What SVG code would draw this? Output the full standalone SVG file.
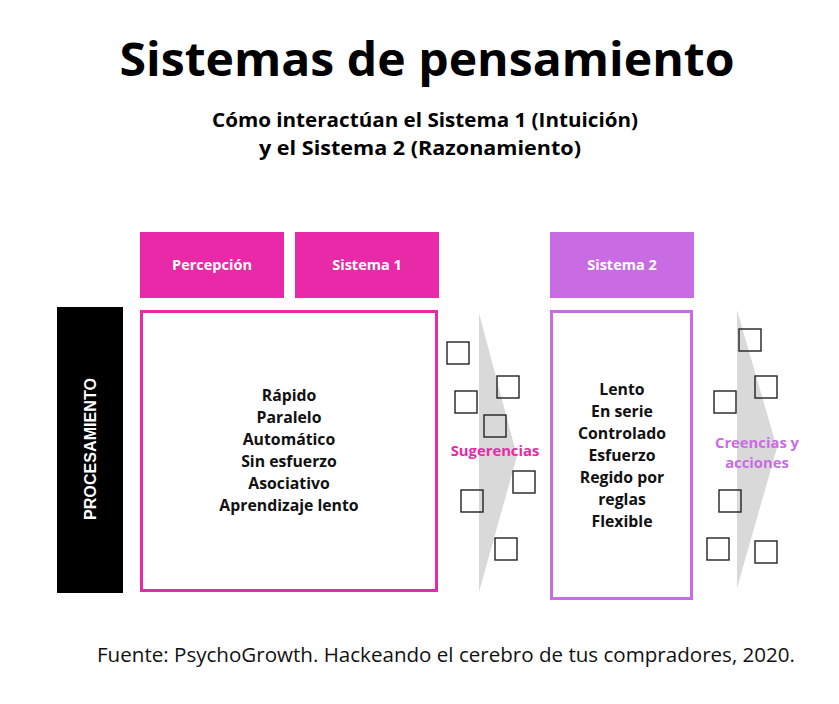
<svg xmlns="http://www.w3.org/2000/svg" width="839" height="704" viewBox="0 0 839 704">
<style>
.t{font-family:"Open Sans","Liberation Sans",sans-serif;font-weight:700;text-anchor:middle}
.hdr{font-size:14.5px;fill:#fff}
.body{font-size:15.8px;fill:#111}
.sq{fill:none;stroke:#222;stroke-width:1.4}
.arr{fill:#d9d9d9}
</style>
<rect width="839" height="704" fill="#fff"/>
<text class="t" x="427" y="76" font-size="47" fill="#000" textLength="615" lengthAdjust="spacingAndGlyphs">Sistemas de pensamiento</text>
<text class="t" x="425" y="127" font-size="19" fill="#000" textLength="426" lengthAdjust="spacingAndGlyphs">Cómo interactúan el Sistema 1 (Intuición)</text>
<text class="t" x="420" y="155" font-size="19" fill="#000" textLength="322" lengthAdjust="spacingAndGlyphs">y el Sistema 2 (Razonamiento)</text>

<g id="connectors">
<polygon class="arr" points="479,313 517,456 479,592"/>
<polygon class="arr" points="737,310 777,448 737,588"/>
<rect class="sq" x="447" y="342" width="22" height="22"/>
<rect class="sq" x="497" y="376" width="22" height="22"/>
<rect class="sq" x="455" y="391" width="22" height="22"/>
<rect class="sq" x="484" y="415" width="22" height="22"/>
<rect class="sq" x="513" y="471" width="22" height="22"/>
<rect class="sq" x="461" y="490" width="22" height="22"/>
<rect class="sq" x="495" y="538" width="22" height="22"/>
<rect class="sq" x="739" y="329" width="22" height="22"/>
<rect class="sq" x="755" y="376" width="22" height="22"/>
<rect class="sq" x="714" y="391" width="22" height="22"/>
<rect class="sq" x="719" y="490" width="22" height="22"/>
<rect class="sq" x="707" y="538" width="22" height="22"/>
<rect class="sq" x="755" y="541" width="22" height="22"/>
<text class="t" x="495" y="456" font-size="14.8" fill="#E829A8">Sugerencias</text>
<text class="t" x="757" y="448" font-size="14.8" fill="#C96CE4">Creencias y</text>
<text class="t" x="757" y="468" font-size="14.8" fill="#C96CE4">acciones</text>
</g>

<g id="percepcion">
<rect x="140" y="232" width="144" height="66" fill="#E829A8"/>
<text class="t hdr" x="212" y="270">Percepción</text>
</g>
<g id="sistema1">
<rect x="295" y="232" width="144" height="66" fill="#E829A8"/>
<text class="t hdr" x="367" y="270">Sistema 1</text>
</g>
<g id="sistema2">
<rect x="550" y="232" width="144" height="66" fill="#C96CE4"/>
<text class="t hdr" x="622" y="270">Sistema 2</text>
</g>
<g id="procesamiento">
<rect x="57" y="307" width="66" height="286" fill="#000"/>
<text x="90" y="449" transform="rotate(-90 90 449)" font-family="Liberation Sans, Arial, sans-serif" font-weight="700" font-size="16" fill="#fff" text-anchor="middle" dominant-baseline="central" textLength="142" lengthAdjust="spacingAndGlyphs">PROCESAMIENTO</text>
</g>
<g id="sistema1-caracteristicas">
<rect x="141.5" y="311.5" width="295" height="279" fill="#fff" stroke="#E829A8" stroke-width="3"/>
<text class="t body" x="289" y="401">Rápido</text>
<text class="t body" x="289" y="423">Paralelo</text>
<text class="t body" x="289" y="445">Automático</text>
<text class="t body" x="289" y="467">Sin esfuerzo</text>
<text class="t body" x="289" y="489">Asociativo</text>
<text class="t body" x="289" y="511">Aprendizaje lento</text>
</g>
<g id="sistema2-caracteristicas">
<rect x="551.5" y="311.5" width="140" height="287" fill="#fff" stroke="#C96CE4" stroke-width="3"/>
<text class="t body" x="622" y="395">Lento</text>
<text class="t body" x="622" y="417">En serie</text>
<text class="t body" x="622" y="439">Controlado</text>
<text class="t body" x="622" y="461">Esfuerzo</text>
<text class="t body" x="622" y="483">Regido por</text>
<text class="t body" x="622" y="505">reglas</text>
<text class="t body" x="622" y="527">Flexible</text>
</g>
<text x="446" y="662" font-family="Open Sans, Liberation Sans, sans-serif" font-size="19.5" fill="#111" text-anchor="middle" textLength="698" lengthAdjust="spacingAndGlyphs">Fuente: PsychoGrowth. Hackeando el cerebro de tus compradores, 2020.</text>
</svg>
